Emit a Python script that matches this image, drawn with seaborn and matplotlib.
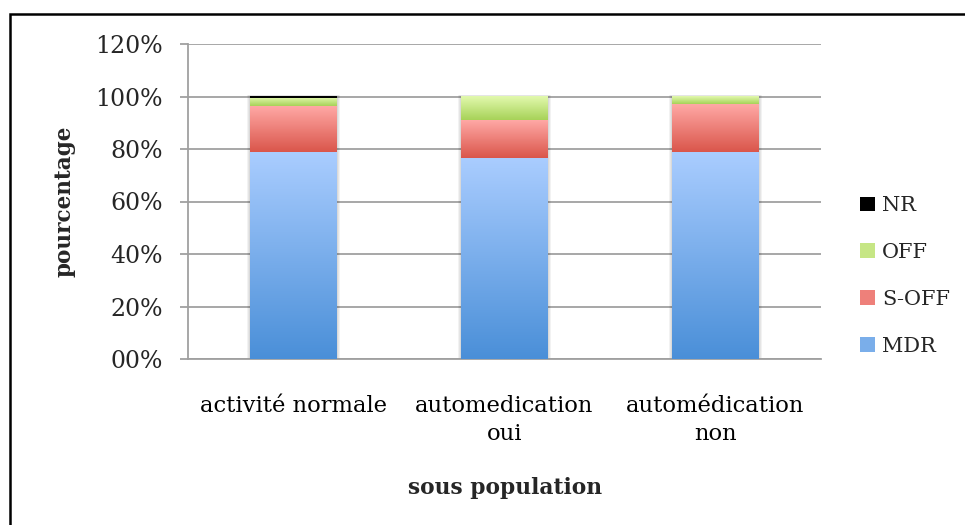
import matplotlib
matplotlib.use("Agg")
import matplotlib.pyplot as plt
import numpy as np
import pandas as pd
import seaborn as sns
from matplotlib.colors import LinearSegmentedColormap
from matplotlib.patches import Rectangle

categories = ["activité normale", "automedication\noui", "automédication\nnon"]
mdr = [79.0, 76.6, 79.0]
s_off = [17.4, 14.3, 18.2]
off = [3.2, 9.1, 2.8]
nr = [0.4, 0.0, 0.0]
series_names = ["MDR", "S-OFF", "OFF", "NR"]
y_ticks = [0, 20, 40, 60, 80, 100, 120]

# (top, bottom) colour of each segment's gradient
grad_colors = {
    "MDR": ("#aacdff", "#4a8fd8"),
    "S-OFF": ("#ffa8a5", "#da564b"),
    "OFF": ("#e2f9ae", "#a7d258"),
    "NR": ("#000000", "#000000"),
}
legend_colors = {"MDR": "#7aaeea", "S-OFF": "#ee807a", "OFF": "#c6e685", "NR": "#000000"}

sns.set_theme(style="white")
plt.rcParams["font.family"] = ["DejaVu Serif"]

W, H = 965, 525
fig = plt.figure(figsize=(W / 100, H / 100), dpi=100)
ax = fig.add_axes([188 / W, 1 - 359 / H, (821 - 188) / W, (359 - 44) / H])

df = pd.DataFrame({"cat": categories, "MDR": mdr, "S-OFF": s_off, "OFF": off, "NR": nr})

bottom = np.zeros(len(categories))
grad = np.linspace(0, 1, 128).reshape(-1, 1)
for name in series_names:
    n_before = len(ax.patches)
    sns.barplot(data=df, x="cat", y=name, ax=ax, color="white", width=0.41,
                saturation=1, errorbar=None)
    new = ax.patches[n_before:]
    top_c, bot_c = grad_colors[name]
    cmap = LinearSegmentedColormap.from_list(name, [bot_c, top_c])
    for p, b in zip(new, bottom):
        p.set_y(b)
        p.set_facecolor("none")
        p.set_edgecolor("none")
        h = p.get_height()
        if h <= 0:
            continue
        x0 = p.get_x()
        ax.imshow(grad, cmap=cmap, origin="lower", aspect="auto",
                  extent=[x0, x0 + p.get_width(), b, b + h], zorder=3,
                  interpolation="bilinear")
    bottom += df[name].values

# soft shadow around each stacked bar
ax.set_xlim(-0.5, 2.5)
ax.set_ylim(0, 120)
px_x = 3.0 / (821 - 188)
px_y = 120.0 / (359 - 44)
for i, total in enumerate(bottom):
    for k in range(1, 4):
        ax.add_patch(Rectangle((i - 0.205 - k * px_x, 0), 0.41 + 2 * k * px_x,
                               total + k * px_y * 0.6, facecolor="black",
                               edgecolor="none", alpha=0.05, zorder=2.5))

ax.set_xlim(-0.5, 2.5)
ax.set_ylim(0, 120)
ax.set_xlabel("")
ax.set_ylabel("")

ax.set_yticks(y_ticks)
ax.set_yticklabels([f"{t:02d}%" for t in y_ticks], fontsize=17)
ax.set_xticks(range(len(categories)))
ax.set_xticklabels(categories, fontsize=16.3, linespacing=1.35)
ax.set_xticks([-0.5, 0.5, 1.5, 2.5], minor=True)
ax.tick_params(axis="x", which="major", length=0, pad=26, colors="black")
ax.tick_params(axis="x", which="minor", length=8, width=1.3, color="#a0a0a0", direction="out")
ax.tick_params(axis="y", length=6, width=1.3, color="#a0a0a0", direction="out", pad=12,
               left=True)

ax.yaxis.grid(True, color="#a0a0a0", lw=1.3)
ax.set_axisbelow(True)
for side in ["top", "right"]:
    ax.spines[side].set_visible(False)
for side in ["left", "bottom"]:
    ax.spines[side].set_color("#a0a0a0")
    ax.spines[side].set_linewidth(1.3)

fig.text(505 / W, 1 - 488 / H, "sous population", ha="center", va="center",
         fontsize=15.7, fontweight="bold")
fig.text(64 / W, 1 - 201 / H, "pourcentage", ha="center", va="center",
         rotation=90, fontsize=15.5, fontweight="bold")

handles = [Rectangle((0, 0), 1, 1, facecolor=legend_colors[n], edgecolor="none")
           for n in series_names[::-1]]
fig.legend(handles, series_names[::-1], loc="center left",
           bbox_to_anchor=(860 / W, 1 - 276 / H), frameon=False, fontsize=15,
           handlelength=0.7, handleheight=0.7, handletextpad=0.35,
           labelspacing=1.34, borderpad=0, borderaxespad=0)

fig.add_artist(Rectangle((10 / W, -0.05), 1.0, 1 - 14 / H + 0.05,
                         transform=fig.transFigure, fill=False,
                         edgecolor="black", lw=1.8))

fig.savefig("out.png", dpi=100)
